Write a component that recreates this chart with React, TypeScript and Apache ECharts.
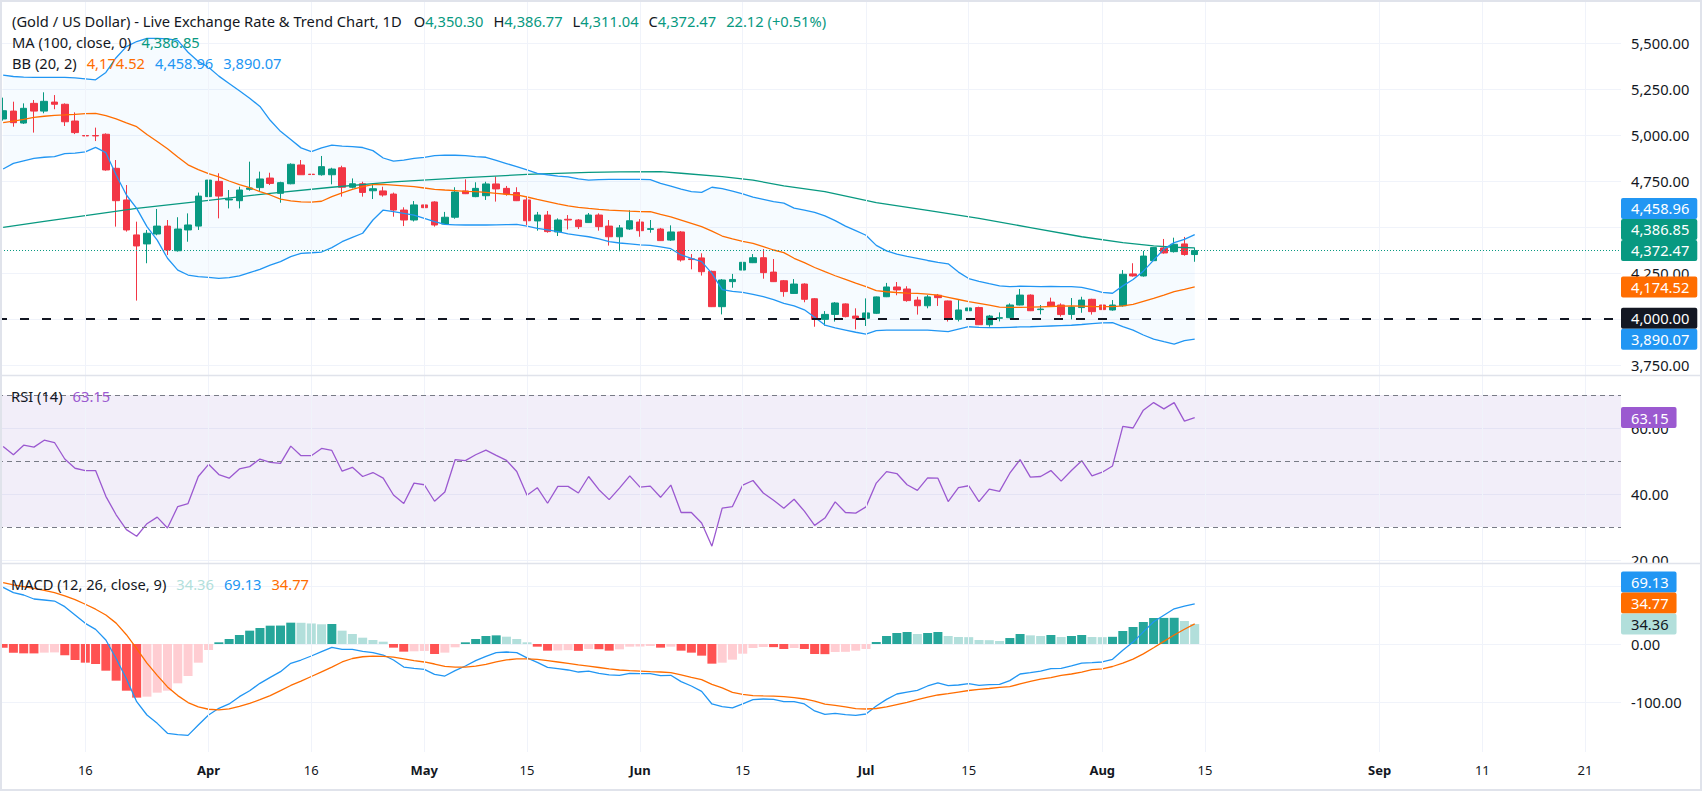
import { useEffect, useRef } from "react";
import * as echarts from "echarts";

// trading calendar: weekdays, Good Friday closed, then calendar days in the empty future area
const FIRST_BAR = "2026-03-04";
const LAST_BAR = "2026-08-14";
const FUTURE_END = "2026-09-24";
const HOLIDAYS = ["2026-04-03"];

const tickLabels: [string, string][] = [
  ["2026-03-16", "16"], ["2026-04-01", "Apr"], ["2026-04-16", "16"], ["2026-05-01", "May"],
  ["2026-05-15", "15"], ["2026-06-01", "Jun"], ["2026-06-15", "15"], ["2026-07-01", "Jul"],
  ["2026-07-15", "15"], ["2026-08-03", "Aug"], ["2026-08-15", "15"], ["2026-09-01", "Sep"],
  ["2026-09-11", "11"], ["2026-09-21", "21"],
];

const opens = [
  5087, 5130, 5065, 5172, 5130, 5179, 5167, 5076, 4997, 4997,
  5004, 4819, 4647, 4457, 4408, 4462, 4505, 4371, 4484, 4505,
  4665, 4748, 4647, 4643, 4705, 4714, 4766, 4683, 4735, 4837,
  4787, 4784, 4784, 4822, 4716, 4735, 4697, 4696, 4679, 4592,
  4538, 4620, 4636, 4516, 4553, 4696, 4665, 4670, 4734, 4710,
  4687, 4647, 4533, 4565, 4473, 4542, 4538, 4524, 4565, 4505,
  4447, 4489, 4527, 4487, 4489, 4429, 4473, 4327, 4332, 4259,
  4067, 4203, 4266, 4306, 4333, 4255, 4208, 4139, 4190, 4110,
  3998, 4025, 4082, 4016, 4004, 4031, 4121, 4174, 4163, 4103,
  4072, 4129, 4098, 3998, 4045, 4062, 3969, 4004, 4007, 4076,
  4130, 4051, 4092, 4076, 4025, 4062, 4107, 4076, 4049, 4072,
  4245, 4234, 4317, 4386, 4366, 4408, 4350.3,
];
const highs = [
  5203, 5181, 5172, 5190, 5232, 5217, 5172, 5123, 5036, 5040,
  5009, 4864, 4728, 4529, 4484, 4598, 4538, 4553, 4574, 4687,
  4788, 4792, 4701, 4719, 4855, 4801, 4795, 4746, 4846, 4864,
  4828, 4886, 4822, 4833, 4764, 4746, 4737, 4719, 4687, 4607,
  4641, 4656, 4640, 4582, 4716, 4759, 4743, 4746, 4774, 4723,
  4716, 4661, 4582, 4587, 4547, 4565, 4543, 4576, 4574, 4538,
  4511, 4591, 4543, 4538, 4495, 4509, 4478, 4353, 4357, 4263,
  4217, 4245, 4366, 4353, 4380, 4326, 4212, 4217, 4194, 4114,
  4043, 4092, 4085, 4058, 4112, 4122, 4196, 4201, 4178, 4121,
  4130, 4136, 4100, 4103, 4091, 4067, 4022, 4036, 4085, 4163,
  4134, 4076, 4116, 4085, 4114, 4121, 4110, 4085, 4103, 4266,
  4303, 4370, 4390, 4435, 4442, 4446, 4386.77,
];
const lows = [
  5078, 5045, 5060, 5013, 5118, 5140, 5049, 5005, 4964, 4967,
  4806, 4502, 4475, 4100, 4303, 4455, 4348, 4366, 4420, 4484,
  4656, 4547, 4601, 4601, 4697, 4692, 4728, 4632, 4732, 4783,
  4774, 4779, 4732, 4665, 4710, 4665, 4652, 4665, 4556, 4505,
  4530, 4560, 4502, 4511, 4545, 4679, 4662, 4647, 4638, 4670,
  4641, 4511, 4480, 4469, 4451, 4487, 4489, 4522, 4480, 4399,
  4368, 4484, 4447, 4469, 4424, 4424, 4312, 4270, 4236, 4065,
  4025, 4170, 4263, 4304, 4219, 4201, 4121, 4137, 4091, 3958,
  3964, 3986, 4009, 3944, 3962, 4027, 4119, 4129, 4094, 4024,
  4058, 4071, 3986, 3987, 4018, 3967, 3958, 3987, 4004, 4074,
  4043, 4025, 4067, 4013, 3998, 4034, 4024, 4016, 4045, 4067,
  4230, 4230, 4315, 4355, 4361, 4344, 4311.04,
];
const closes = [
  5132, 5067, 5145, 5130, 5183, 5167, 5072, 5013, 4995, 4995,
  4810, 4643, 4484, 4397, 4466, 4505, 4375, 4489, 4511, 4668,
  4755, 4668, 4652, 4701, 4712, 4761, 4737, 4741, 4841, 4784,
  4785, 4828, 4815, 4716, 4735, 4688, 4708, 4674, 4592, 4538,
  4620, 4605, 4511, 4553, 4690, 4681, 4710, 4734, 4707, 4679,
  4643, 4534, 4565, 4475, 4538, 4538, 4502, 4565, 4502, 4447,
  4495, 4534, 4480, 4491, 4426, 4473, 4321, 4323, 4257, 4067,
  4212, 4215, 4308, 4333, 4252, 4203, 4149, 4190, 4107, 3998,
  4025, 4087, 4013, 4004, 4033, 4120, 4174, 4158, 4100, 4072,
  4120, 4116, 3998, 4049, 4060, 3969, 4016, 4007, 4076, 4130,
  4045, 4054, 4071, 4024, 4065, 4103, 4040, 4051, 4076, 4243,
  4234, 4342, 4388, 4359, 4406, 4350.35, 4372.47,
];

// MA (100) read at a few bars: [bar index, value]
const ma100: [number, number][] = [
  [0, 4498], [4, 4530], [8, 4562], [13, 4601], [20, 4645], [26, 4683], [32, 4716],
  [38, 4745], [45, 4768], [51, 4786], [57, 4797], [60, 4800], [64, 4801], [66, 4792],
  [70, 4774], [73, 4755], [76, 4723], [80, 4692], [85, 4632], [90, 4590], [95, 4547],
  [100, 4497], [105, 4447], [109, 4415], [112, 4397], [114, 4390], [116, 4386.85],
];

const bbUpper = [
  5325, 5318, 5315, 5313, 5313, 5313, 5313, 5310, 5305, 5300,
  5340, 5420, 5480, 5508, 5525, 5525, 5522, 5514, 5450, 5400,
  5368, 5320, 5280, 5240, 5200, 5155, 5080, 5020, 4975, 4930,
  4910, 4930, 4945, 4940, 4937, 4932, 4915, 4875, 4858, 4864,
  4873, 4878, 4888, 4891, 4890, 4888, 4882, 4879, 4862, 4845,
  4828, 4810, 4792, 4784, 4777, 4772, 4762, 4755, 4757, 4759,
  4759, 4759, 4759, 4757, 4737, 4722, 4706, 4692, 4688, 4716,
  4708, 4695, 4680, 4662, 4650, 4638, 4630, 4603, 4592, 4580,
  4560, 4535, 4505, 4480, 4455, 4400, 4370, 4352, 4340, 4330,
  4318, 4308, 4300, 4255, 4220, 4205, 4192, 4180, 4176, 4178,
  4177, 4176, 4177, 4176, 4176, 4172, 4160, 4145, 4140, 4180,
  4215, 4260, 4320, 4380, 4415, 4433, 4458.96,
];
const bbBasis = [
  5067, 5075, 5085, 5096, 5102, 5107, 5109, 5112, 5116, 5118,
  5105, 5088, 5066, 5045, 5003, 4965, 4925, 4880, 4838, 4812,
  4790, 4772, 4750, 4730, 4714, 4692, 4674, 4652, 4642, 4637,
  4635, 4640, 4665, 4685, 4705, 4719, 4730, 4732, 4728, 4724,
  4719, 4712, 4705, 4701, 4698, 4694, 4692, 4688, 4683, 4678,
  4674, 4663, 4650, 4638, 4626, 4615, 4607, 4601, 4596, 4592,
  4589, 4586, 4584, 4583, 4568, 4555, 4538, 4520, 4502, 4478,
  4451, 4436, 4422, 4411, 4393, 4375, 4361, 4330, 4306, 4280,
  4257, 4235, 4215, 4195, 4176, 4154, 4148, 4144, 4141, 4139,
  4135, 4130, 4118, 4106, 4094, 4085, 4075, 4065, 4063, 4063,
  4064, 4066, 4068, 4070, 4071, 4070, 4068, 4067, 4067, 4071,
  4080, 4096, 4112, 4130, 4149, 4161, 4174.52,
];
const bbLower = [
  4815, 4846, 4860, 4873, 4879, 4882, 4899, 4902, 4908, 4933,
  4904, 4783, 4674, 4601, 4502, 4429, 4330, 4266, 4239, 4230,
  4226, 4221, 4225, 4234, 4252, 4270, 4293, 4312, 4339, 4357,
  4360, 4364, 4388, 4420, 4444, 4466, 4538, 4592, 4583, 4574,
  4565, 4547, 4529, 4514, 4512, 4511, 4511, 4511, 4512, 4513,
  4514, 4505, 4493, 4484, 4475, 4463, 4455, 4447, 4435, 4420,
  4413, 4408, 4403, 4400, 4392, 4382, 4348, 4330, 4312, 4248,
  4160, 4150, 4145, 4134, 4121, 4105, 4085, 4071, 4050, 4010,
  3967, 3952, 3940, 3928, 3918, 3937, 3940, 3940, 3940, 3940,
  3940, 3936, 3931, 3945, 3958, 3955, 3953, 3953, 3955, 3957,
  3958, 3960, 3962, 3964, 3966, 3970, 3975, 3979, 3980, 3958,
  3940, 3913, 3891, 3877, 3864, 3882, 3890.07,
];

const rsi = [
  54.4, 51.9, 54.8, 54.2, 56.3, 55.6, 50.6, 47.8, 47.1, 47.1,
  39.3, 33.7, 29.2, 27.2, 31.0, 33.0, 29.7, 36.2, 37.1, 45.3,
  49.0, 45.9, 44.8, 47.6, 48.3, 50.6, 49.6, 49.3, 54.5, 51.6,
  51.6, 53.8, 53.2, 46.9, 48.1, 45.3, 46.5, 44.8, 39.7, 37.1,
  43.3, 42.8, 37.8, 40.6, 50.4, 50.1, 51.9, 53.3, 51.7, 50.2,
  46.8, 39.6, 41.9, 37.2, 42.3, 42.3, 40.3, 45.3, 41.3, 38.3,
  41.8, 45.5, 42.1, 42.4, 39.0, 42.7, 34.4, 34.4, 31.2, 24.2,
  35.7, 36.2, 42.7, 44.1, 40.3, 38.1, 35.7, 38.4, 34.8, 30.5,
  32.7, 37.6, 34.4, 34.2, 36.1, 43.3, 46.8, 46.2, 42.8, 41.1,
  44.9, 44.8, 37.7, 41.9, 42.5, 37.7, 41.5, 40.8, 46.3, 50.4,
  45.1, 45.3, 47.1, 43.9, 47.1, 50.1, 45.5, 46.6, 48.5, 60.5,
  60.0, 65.4, 67.7, 65.8, 67.7, 62.1, 63.15,
];

const macd = [
  97.7, 88.5, 84.5, 77.6, 75.9, 74.1, 64.4, 50.0, 35.6, 25.3,
  6.9, -25, -60, -99.4, -122.4, -136.8, -154.0, -156.3, -157.5, -139.7,
  -122.4, -110.9, -103.4, -90.8, -80.5, -67.8, -57.5, -47.7, -33.3, -27.6,
  -20.7, -13.2, -5.7, -9.2, -9.2, -12.6, -14.9, -19.0, -27.6, -39.7,
  -42.0, -43.7, -52.3, -55.2, -46.0, -37.9, -28.7, -21.3, -14.9, -13.8,
  -14.9, -24.0, -31.6, -40.2, -42.5, -44.8, -48.3, -46.6, -50.6, -53.4,
  -54.0, -50.6, -51.1, -51.1, -54.6, -54.0, -64.9, -72.4, -81.6, -103.4,
  -108.0, -110.3, -103.4, -96.0, -94.8, -95.4, -99.4, -99.4, -103.4, -115.5,
  -121.3, -119.5, -121.8, -123.0, -120.7, -106.9, -95.4, -86.2, -82.8, -79.9,
  -72.4, -67.2, -71.8, -70.7, -68.4, -71.3, -70.1, -69.5, -63.2, -51.7,
  -49.4, -46.6, -42.5, -42.0, -37.9, -32.8, -32.2, -31.0, -26.4, -10.6,
  3.3, 20.9, 38.3, 49.5, 60.7, 65.2, 69.13,
];
const signal = [
  106, 102, 99, 96, 92.5, 88.5, 83, 76.5, 68.5, 60,
  50, 36, 16, -8, -33, -54, -74, -89, -101, -108.5,
  -112.5, -113.5, -112, -107.5, -102.5, -96, -89, -80.5, -71.5, -64,
  -56, -48, -40, -31, -25, -22, -21, -21.5, -22.5, -25.5,
  -28.5, -31, -34.5, -38.5, -40, -40, -38, -35, -31, -27.5,
  -25.5, -25.5, -26.5, -28.5, -31, -33.5, -36, -38, -40.5, -43,
  -44.8, -46, -46.8, -47.7, -48.3, -49.4, -53.4, -57.5, -61.5, -69.5,
  -75.8, -83.3, -86.7, -89.1, -89.6, -90.0, -90.8, -92.5, -94.8, -98.3,
  -103.8, -105.7, -108.3, -111.5, -112.1, -111.2, -108.5, -104.5, -100.5, -96,
  -91.4, -87.9, -85.6, -82.8, -80.2, -78.2, -76.7, -74.7, -73.5, -68.9,
  -64.3, -60.4, -58, -54.1, -51.7, -48.3, -44.3, -42.8, -38.8, -33,
  -26, -17, -6.5, 4.5, 15.5, 25.5, 34.77,
];
const hist = [
  -6.3, -14.9, -16.1, -16.2, -14.9, -14.5, -19.5, -27.6, -32.2, -34.5,
  -46.0, -63.2, -80.5, -92.5, -90.8, -83.9, -80.5, -67.8, -55.2, -32.2,
  -10.3, 2.9, 8.6, 15.5, 23.0, 27.6, 31.6, 31.8, 36.8, 36.6,
  35.4, 34.0, 34.5, 23.0, 17.2, 10.9, 6.9, 4.0, -6.3, -13.2,
  -12.6, -12.0, -17.2, -14.9, -5.7, 2.9, 8.6, 13.8, 14.9, 12.6,
  8.6, 2.9, -4.6, -11.5, -11.2, -10.6, -11.8, -8.6, -9.0, -11.5,
  -9.2, -4.6, -4.3, -3.4, -6.3, -4.6, -11.5, -14.9, -20.1, -33.9,
  -32.2, -27.0, -16.7, -6.9, -5.2, -5.4, -8.6, -6.9, -8.6, -17.2,
  -17.5, -13.8, -13.5, -11.5, -8.6, 3.4, 13.8, 19.0, 20.7, 17.2,
  19.0, 20.7, 13.8, 12.1, 11.8, 6.9, 6.6, 5.2, 10.3, 17.2,
  14.9, 13.8, 15.5, 12.1, 13.8, 15.5, 12.1, 11.8, 12.4, 22.4,
  29.3, 37.9, 44.8, 45.0, 45.2, 39.7, 34.36,
];

const FONT = '"Noto Sans", sans-serif';
const FS = 14.7;
const TEXT = "#131722";
const GRID = "#f0f3fa";
const SEP = "#e0e3eb";
const UP = "#089981";
const DOWN = "#f23645";
const BLUE = "#2196f3";
const ORANGE = "#ff6d00";
const PURPLE = "#9b59d0";
const TEAL_LIGHT = "#b2dfdb";
const LEFT = -2;
const RIGHT = 81;
const AXIS_X = 1621;
const BOX_H = 21;

const iso = (d: Date) => d.toISOString().slice(0, 10);

function buildDates() {
  const out: string[] = [];
  const d = new Date(FIRST_BAR + "T00:00:00Z");
  const last = new Date(LAST_BAR + "T00:00:00Z");
  while (d <= last) {
    const s = iso(d);
    const wd = d.getUTCDay();
    if (wd !== 0 && wd !== 6 && !HOLIDAYS.includes(s)) out.push(s);
    d.setUTCDate(d.getUTCDate() + 1);
  }
  const end = new Date(FUTURE_END + "T00:00:00Z");
  while (d <= end) {
    out.push(iso(d));
    d.setUTCDate(d.getUTCDate() + 1);
  }
  return out;
}

const fmt = (v: number) => v.toFixed(2).replace(/\B(?=(\d{3})+(?!\d))/g, ",");

const histColor = (i: number) => {
  const h = hist[i];
  const p = i > 0 ? hist[i - 1] : Infinity;
  if (h >= 0) return h > p ? "#26a69a" : TEAL_LIGHT;
  return h < p ? "#ff5252" : "#ffcdd2";
};

const tok = (c: string) => ({ fill: c, color: c, fontSize: FS, fontFamily: FONT });
const RICH: any = {
  t: tok(TEXT),
  g: tok(UP),
  o: tok(ORANGE),
  b: tok(BLUE),
  p: tok(PURPLE),
  l: tok(TEAL_LIGHT),
  s: { width: 10, fontSize: FS, fontFamily: FONT },
  k: { width: 12, fontSize: FS, fontFamily: FONT },
};

function legendText(x: number, y: number, text: string) {
  return {
    type: "text", x, y, z: 50, silent: true,
    style: {
      text, rich: RICH, font: `${FS}px ${FONT}`, fill: TEXT,
      verticalAlign: "middle", textVerticalAlign: "middle", align: "left", textAlign: "left",
    },
  };
}

export default function App() {
  const ref = useRef<HTMLDivElement>(null);

  useEffect(() => {
    if (!ref.current) return;
    document.body.style.margin = "0";
    const chart = echarts.init(ref.current, undefined, { renderer: "svg" });
    const dates = buildDates();
    const tickMap = new Map(tickLabels);
    const n = closes.length - 1;

    const change = closes[n] - closes[n - 1];
    const pct = (change / closes[n - 1]) * 100;
    const lastMa = ma100[ma100.length - 1][1];

    const line1 =
      `{t|(Gold / US Dollar) - Live Exchange Rate & Trend Chart, 1D}{k| }` +
      `{t|O}{g|${fmt(opens[n])}}{s| }{t|H}{g|${fmt(highs[n])}}{s| }` +
      `{t|L}{g|${fmt(lows[n])}}{s| }{t|C}{g|${fmt(closes[n])}}{s| }` +
      `{g|${fmt(change)} (${change >= 0 ? "+" : ""}${pct.toFixed(2)}%)}`;
    const line2 = `{t|MA (100, close, 0)}{s| }{g|${fmt(lastMa)}}`;
    const line3 =
      `{t|BB (20, 2)}{s| }{o|${fmt(bbBasis[n])}}{s| }{b|${fmt(bbUpper[n])}}{s| }{b|${fmt(bbLower[n])}}`;
    const lineRsi = `{t|RSI (14)}{s| }{p|${rsi[n].toFixed(2)}}`;
    const lineMacd =
      `{t|MACD (12, 26, close, 9)}{s| }{l|${hist[n].toFixed(2)}}{s| }{b|${macd[n].toFixed(2)}}{s| }{o|${signal[n].toFixed(2)}}`;

    const staticGraphic: any[] = [
      legendText(12, 21, line1),
      legendText(12, 42, line2),
      legendText(12, 63, line3),
      legendText(11, 396, lineRsi),
      legendText(11, 584, lineMacd),
      {
        type: "rect", z: 55, silent: true,
        shape: { x: AXIS_X + 1, y: 563, width: 78, height: 10 },
        style: { fill: "#ffffff" },
      },
      {
        type: "line", z: 60, silent: true,
        shape: { x1: 0, y1: 375.5, x2: 1702, y2: 375.5 },
        style: { stroke: SEP, lineWidth: 1.5 },
      },
      {
        type: "line", z: 60, silent: true,
        shape: { x1: 0, y1: 563.5, x2: 1702, y2: 563.5 },
        style: { stroke: SEP, lineWidth: 1.5 },
      },
      {
        type: "rect", z: 60, silent: true,
        shape: { x: 0, y: 0, width: 1702, height: 791 },
        style: { fill: "none", stroke: SEP, lineWidth: 4 },
      },
    ];

    // scale values that sit wholly under a tag in the reference are left blank
    const hiddenUnderTags = [4500, 100];

    const valueAxis = (gridIndex: number, min: number, max: number, interval: number, extra: any = {}) => ({
      type: "value",
      gridIndex,
      position: "right",
      min,
      max,
      interval,
      axisLine: { show: false },
      axisTick: { show: false },
      splitLine: { show: true, lineStyle: { color: GRID, width: 1 }, ...(extra.splitLine || {}) },
      axisLabel: {
        margin: 10, color: TEXT, fontSize: FS, fontFamily: FONT,
        formatter: (v: number) => (hiddenUnderTags.includes(v) ? "" : fmt(v)),
        showMaxLabel: false, ...(extra.axisLabel || {}),
      },
    });

    const catAxis = (gridIndex: number, labels: boolean) => ({
      type: "category",
      gridIndex,
      data: dates,
      boundaryGap: true,
      axisLine: { show: false },
      axisTick: { show: false },
      splitLine: { show: false },
      axisLabel: labels
        ? {
            show: true,
            margin: 3,
            color: TEXT,
            fontSize: 13,
            fontFamily: FONT,
            interval: (_i: number, v: string) => tickMap.has(v),
            formatter: (v: string) => {
              const s = tickMap.get(v);
              if (!s) return "";
              return /\d/.test(s) ? s : `{m|${s}}`;
            },
            rich: { m: { fontWeight: "bold", fontSize: 13, fontFamily: FONT, color: TEXT } },
          }
        : { show: false },
    });

    const gridBase = { left: LEFT, right: RIGHT, outerBoundsMode: "none", containLabel: false };

    const option: any = {
      animation: false,
      backgroundColor: "#ffffff",
      textStyle: { fontFamily: FONT },
      grid: [
        { ...gridBase, top: -3, height: 368 }, // price 5750 .. 3750
        { ...gridBase, top: 375, height: 185 }, // RSI 76.06 .. 20
        { ...gridBase, top: 563, height: 197 }, // MACD 139.66 .. -200
        { ...gridBase, top: 0, height: 752 }, // vertical grid lines
      ],
      xAxis: [catAxis(0, false), catAxis(1, false), catAxis(2, true), catAxis(3, false)],
      yAxis: [
        valueAxis(0, 3750, 5750, 250),
        valueAxis(1, 20, 76.06, 20),
        valueAxis(2, -200, 139.66, 100, {
          axisLabel: { showMinLabel: false },
          splitLine: { showMinLine: false },
        }),
        { type: "value", gridIndex: 3, min: 0, max: 1, show: false, splitLine: { show: false } },
      ],
      series: [
        {
          type: "line", xAxisIndex: 3, yAxisIndex: 3, z: 0, silent: true,
          data: dates.map(() => null), symbol: "none", lineStyle: { opacity: 0 },
          markLine: {
            silent: true, symbol: ["none", "none"], label: { show: false },
            lineStyle: { color: GRID, width: 1, type: "solid" },
            data: tickLabels.map(([d]) => ({ xAxis: d })),
          },
        },
        {
          type: "line", xAxisIndex: 0, yAxisIndex: 0, stack: "bb", z: 1, silent: true,
          data: bbLower, symbol: "none", lineStyle: { opacity: 0 },
        },
        {
          type: "line", xAxisIndex: 0, yAxisIndex: 0, stack: "bb", z: 1, silent: true,
          data: bbUpper.map((u, i) => u - bbLower[i]), symbol: "none",
          lineStyle: { opacity: 0 }, areaStyle: { color: "rgba(33,150,243,0.055)" },
        },
        {
          type: "candlestick", xAxisIndex: 0, yAxisIndex: 0, z: 2,
          data: opens.map((o, i) => [o, closes[i], lows[i], highs[i]]),
          barWidth: 7,
          itemStyle: { color: UP, color0: DOWN, borderColor: UP, borderColor0: DOWN, borderWidth: 1 },
          markLine: {
            silent: true, symbol: ["none", "none"], label: { show: false },
            data: [
              { yAxis: 4000, lineStyle: { color: TEXT, width: 2, type: [9, 13] } },
              { yAxis: closes[n], lineStyle: { color: UP, width: 1, type: [1, 2] } },
            ],
          },
        },
        {
          type: "line", xAxisIndex: 0, yAxisIndex: 0, z: 3, silent: true,
          data: ma100.map(([i, v]) => [dates[i], v]), symbol: "none",
          lineStyle: { color: UP, width: 1.3 },
        },
        {
          type: "line", xAxisIndex: 0, yAxisIndex: 0, z: 3, silent: true,
          data: bbUpper, symbol: "none", lineStyle: { color: BLUE, width: 1.3 },
        },
        {
          type: "line", xAxisIndex: 0, yAxisIndex: 0, z: 3, silent: true,
          data: bbLower, symbol: "none", lineStyle: { color: BLUE, width: 1.3 },
        },
        {
          type: "line", xAxisIndex: 0, yAxisIndex: 0, z: 3, silent: true,
          data: bbBasis, symbol: "none", lineStyle: { color: ORANGE, width: 1.3 },
        },
        {
          type: "line", xAxisIndex: 1, yAxisIndex: 1, z: 3, silent: true,
          data: rsi, symbol: "none", lineStyle: { color: PURPLE, width: 1.3 },
          markArea: {
            silent: true, itemStyle: { color: "rgba(126,87,194,0.1)" },
            data: [[{ yAxis: 30 }, { yAxis: 70 }]],
          },
          markLine: {
            silent: true, symbol: ["none", "none"], label: { show: false },
            lineStyle: { color: "#787b86", width: 1, type: [5, 4] },
            data: [{ yAxis: 70 }, { yAxis: 50 }, { yAxis: 30 }],
          },
        },
        {
          type: "bar", xAxisIndex: 2, yAxisIndex: 2, z: 2, silent: true, barWidth: 9,
          data: hist.map((h, i) => ({ value: h, itemStyle: { color: histColor(i) } })),
        },
        {
          type: "line", xAxisIndex: 2, yAxisIndex: 2, z: 3, silent: true,
          data: macd, symbol: "none", lineStyle: { color: BLUE, width: 1.3 },
        },
        {
          type: "line", xAxisIndex: 2, yAxisIndex: 2, z: 3, silent: true,
          data: signal, symbol: "none", lineStyle: { color: ORANGE, width: 1.3 },
        },
      ],
      graphic: { elements: staticGraphic },
    };

    chart.setOption(option);

    // price tags on the right scale, pushed apart upwards where they would overlap
    const tags = (axis: number, items: { v: number; bg: string; fg: string; text: string }[]) => {
      const ys = items.map((it) => chart.convertToPixel({ yAxisIndex: axis }, it.v) as number);
      const order = items.map((_, i) => i).sort((a, b) => ys[a] - ys[b]);
      const placed = order.map((i) => ys[i]);
      for (let k = placed.length - 2; k >= 0; k--) {
        if (placed[k] > placed[k + 1] - BOX_H) placed[k] = placed[k + 1] - BOX_H;
      }
      return order.map((i, k) => ({
        type: "text", x: AXIS_X, y: placed[k], z: 70, silent: true,
        style: {
          text: items[i].text, fill: items[i].fg, backgroundColor: items[i].bg,
          font: `${FS}px ${FONT}`, lineHeight: 15, padding: [3, 8, 3, 10], borderRadius: 2,
          verticalAlign: "middle", textVerticalAlign: "middle", align: "left", textAlign: "left",
        },
      }));
    };

    const priceTags = tags(0, [
      { v: bbUpper[n], bg: BLUE, fg: "#ffffff", text: fmt(bbUpper[n]) },
      { v: lastMa, bg: UP, fg: "#ffffff", text: fmt(lastMa) },
      { v: closes[n], bg: UP, fg: "#ffffff", text: fmt(closes[n]) },
      { v: bbBasis[n], bg: ORANGE, fg: "#ffffff", text: fmt(bbBasis[n]) },
      { v: 4000, bg: TEXT, fg: "#ffffff", text: fmt(4000) },
      { v: bbLower[n], bg: BLUE, fg: "#ffffff", text: fmt(bbLower[n]) },
    ]);
    const rsiTags = tags(1, [{ v: rsi[n], bg: PURPLE, fg: "#ffffff", text: rsi[n].toFixed(2) }]);
    const macdTags = tags(2, [
      { v: macd[n], bg: BLUE, fg: "#ffffff", text: macd[n].toFixed(2) },
      { v: signal[n], bg: ORANGE, fg: "#ffffff", text: signal[n].toFixed(2) },
      { v: hist[n], bg: TEAL_LIGHT, fg: TEXT, text: hist[n].toFixed(2) },
    ]);

    chart.setOption({ graphic: { elements: [...staticGraphic, ...priceTags, ...rsiTags, ...macdTags] } });

    return () => {
      chart.dispose();
    };
  }, []);

  return (
    <div
      ref={ref}
      style={{ position: "fixed", left: 0, top: 0, width: 1702, height: 791, background: "#ffffff" }}
    />
  );
}
